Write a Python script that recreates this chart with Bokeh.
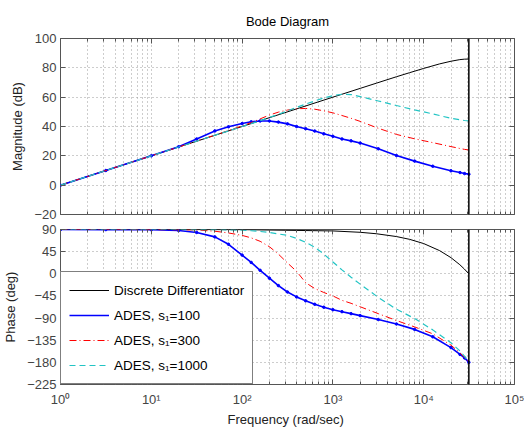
from bokeh.plotting import figure
from bokeh.layouts import column
from bokeh.models import FixedTicker, LinearAxis, LogAxis, Span, Range1d, Legend, LegendItem
from bokeh.embed import file_html
from bokeh.resources import INLINE

# ---------------- data ----------------
NYQUIST = 31416  # rad/sec
TITLE = "Bode Diagram"

DD_FREQ = [1, 10, 100, 1000, 2000, 3000, 5000, 7000, 10000, 15000, 20000, 25000, 28000, 31416]
DD_MAG = [0, 20, 40, 60, 66.0, 69.5, 73.9, 76.7, 79.6, 82.7, 84.5, 85.6, 85.9, 86.0]
DD_PHASE = [90, 90, 89.7, 87.1, 84.3, 81.4, 75.7, 70.0, 61.4, 47.0, 32.7, 18.4, 9.8, 0]

ADES_FREQ = [1, 3.16, 10, 20, 31.6, 50.1, 70.8, 100, 126, 158, 200, 251, 316, 398, 501,
             631, 794, 1000, 1259, 1585, 1995, 3162, 5012, 7943, 12589, 19953, 25119,
             28184, 31416]

MAG_100 = [0, 10, 20, 26.2, 31.5, 37.0, 39.8, 42.0, 43.2, 43.8, 43.8, 43.0, 41.8, 40.0, 38.5,
           36.9, 35.0, 33.3, 31.5, 30.2, 28.7, 24.8, 20.2, 16.4, 12.9, 9.8, 8.6, 7.9, 7.5]
MAG_300 = [0, 10, 20, 26.0, 30.0, 34.1, 37.2, 40.5, 42.6, 45.2, 47.8, 49.8, 51.2, 52.1, 52.3,
           51.8, 50.7, 49.3, 47.5, 45.6, 43.5, 38.8, 34.6, 31.6, 29.0, 26.3, 25.0, 24.4, 24.0]
MAG_1000 = [0, 10, 20, 26.0, 30.0, 34.0, 37.0, 40.0, 42.0, 44.0, 46.2, 48.3, 50.6, 53.0, 55.3,
            57.4, 59.5, 61.0, 62.0, 61.8, 60.4, 57.4, 54.3, 51.3, 48.6, 45.6, 44.6, 44.1, 43.9]

PH_100 = [89.9, 89.8, 89.4, 88, 84, 75, 60, 38, 23, 7, -9, -24, -37, -47, -55,
          -62, -68, -73, -77, -81, -85, -93, -102, -113, -128, -150, -164, -171, -180]
PH_300 = [90, 90, 89.8, 89.5, 89, 86.5, 83, 78, 73, 66, 55, 40, 22, 5, -18,
          -30, -38, -45, -54, -60, -67, -81, -95, -108, -122, -145, -161, -170, -180]
PH_1000 = [90, 90, 90, 90, 89.8, 89.6, 89.3, 88.5, 87.5, 86, 84, 81, 78, 72, 64,
           54, 40, 24, 8, -7, -21, -48, -72, -91, -114, -140, -157, -168, -180]

X_TICKS = [1, 10, 100, 1000, 10000, 100000]
X_TICK_LABELS = ["10\u2070", "10\u00b9", "10\u00b2", "10\u00b3", "10\u2074", "10\u2075"]
MAG_TICKS = [-20, 0, 20, 40, 60, 80, 100]
PHASE_TICKS = [-225, -180, -135, -90, -45, 0, 45, 90]

LABEL_DD = "Discrete Differentiator"
LABEL_100 = "ADES, s\u2081=100"
LABEL_300 = "ADES, s\u2081=300"
LABEL_1000 = "ADES, s\u2081=1000"

# ---------------- styling helpers ----------------
FONT = "Liberation Sans"
AX_COL = "#555555"
TICK_COL = "#444444"
GRID_COL = "#9a9a9a"

minor = [m * d for d in X_TICKS[:-1] for m in range(2, 10)]
x_ticker = FixedTicker(ticks=X_TICKS, minor_ticks=minor)


def style_axis(ax, show_labels):
    ax.axis_line_color = None
    ax.major_tick_line_color = AX_COL
    ax.minor_tick_line_color = AX_COL
    ax.major_tick_in = 5
    ax.major_tick_out = 0
    ax.minor_tick_in = 3
    ax.minor_tick_out = 0
    ax.major_label_text_font = FONT
    ax.axis_label_text_font = FONT
    ax.axis_label_text_font_style = "normal"
    ax.axis_label_text_color = "#222222"
    ax.axis_label_text_font_size = "13px"
    if show_labels:
        ax.major_label_text_font_size = "13px"
        ax.major_label_text_color = TICK_COL
    else:
        ax.major_label_text_font_size = "1px"
        ax.major_label_text_color = None
        ax.major_label_standoff = 0


def make_fig(yr, yticks, fh, top_border, bottom_border, ylabel, show_x, title=None):
    kw = dict(x_axis_type="log", x_range=Range1d(1, 1e5), y_range=Range1d(*yr),
              frame_width=454, frame_height=fh, min_border_left=55, min_border_right=10,
              min_border_top=top_border, min_border_bottom=bottom_border,
              output_backend="svg", toolbar_location=None)
    if title:
        kw["title"] = title
    p = figure(**kw)
    p.outline_line_color = AX_COL
    p.outline_line_width = 1
    yt = FixedTicker(ticks=yticks, minor_ticks=[])
    overrides = {t: str(t).replace("-", "\u2212") for t in yticks}

    p.xaxis.ticker = x_ticker
    p.xaxis.major_label_overrides = dict(zip(X_TICKS, X_TICK_LABELS))
    style_axis(p.xaxis[0], show_x)
    if show_x:
        p.xaxis.major_label_standoff = 7
        p.xaxis.axis_label = "Frequency  (rad/sec)"
        p.xaxis.axis_label_standoff = 2

    p.yaxis.ticker = yt
    p.yaxis.major_label_overrides = overrides
    p.yaxis.axis_label = ylabel
    style_axis(p.yaxis[0], True)
    p.yaxis.major_label_standoff = 4
    p.yaxis.axis_label_standoff = 6

    ra = LinearAxis(ticker=yt)
    style_axis(ra, False)
    p.add_layout(ra, "right")
    ta = LogAxis(ticker=x_ticker)
    style_axis(ta, False)
    p.add_layout(ta, "above")

    p.xgrid.ticker = x_ticker
    p.ygrid.ticker = yt
    for g in (p.xgrid[0], p.ygrid[0]):
        g.grid_line_color = GRID_COL
        g.grid_line_dash = "1 3"
        g.grid_line_width = 1
    p.xgrid.minor_grid_line_color = GRID_COL
    p.xgrid.minor_grid_line_dash = "1 3"

    p.add_layout(Span(location=NYQUIST, dimension="height", line_color="black", line_width=1.5))
    return p


top = make_fig((-20, 100), MAG_TICKS, 176, 38, 7, "Magnitude (dB)", False, title=TITLE)
top.title.align = "center"
top.title.text_font = FONT
top.title.text_font_size = "13px"
top.title.text_font_style = "normal"
top.title.text_color = "black"
top.title.standoff = 20

bot = make_fig((-225, 90), PHASE_TICKS, 155, 8, 30, "Phase (deg)", True)


def draw(p, mags):
    dd, a1, a3, a10 = mags
    r_dd = p.line(DD_FREQ, dd, line_color="black", line_width=1)
    r_1 = p.line(ADES_FREQ, a1, line_color="#0000ff", line_width=1.6)
    p.scatter(ADES_FREQ, a1, marker="circle", size=2.5, color="#0000ff")
    r_3 = p.line(ADES_FREQ, a3, line_color="#ff0000", line_width=1, line_dash="7 3 1 3")
    r_10 = p.line(ADES_FREQ, a10, line_color="#22c4c4", line_width=1.2, line_dash="6 4")
    return r_dd, r_1, r_3, r_10


draw(top, (DD_MAG, MAG_100, MAG_300, MAG_1000))
rs = draw(bot, (DD_PHASE, PH_100, PH_300, PH_1000))

lg = Legend(items=[LegendItem(label=lab, renderers=[r])
                   for lab, r in zip([LABEL_DD, LABEL_100, LABEL_300, LABEL_1000], rs)])
lg.location = "bottom_left"
lg.margin = 0
lg.border_line_color = "black"
lg.border_line_width = 1
lg.background_fill_color = "white"
lg.background_fill_alpha = 1
lg.label_text_font = FONT
lg.label_text_font_size = "13.5px"
lg.label_text_color = "black"
lg.glyph_width = 40
lg.glyph_height = 20
lg.label_height = 20
lg.spacing = 5
lg.padding = 8
lg.label_standoff = 5
bot.add_layout(lg, "center")

layout = column(top, bot, spacing=0)
open("out.html", "w").write(file_html(layout, INLINE))
